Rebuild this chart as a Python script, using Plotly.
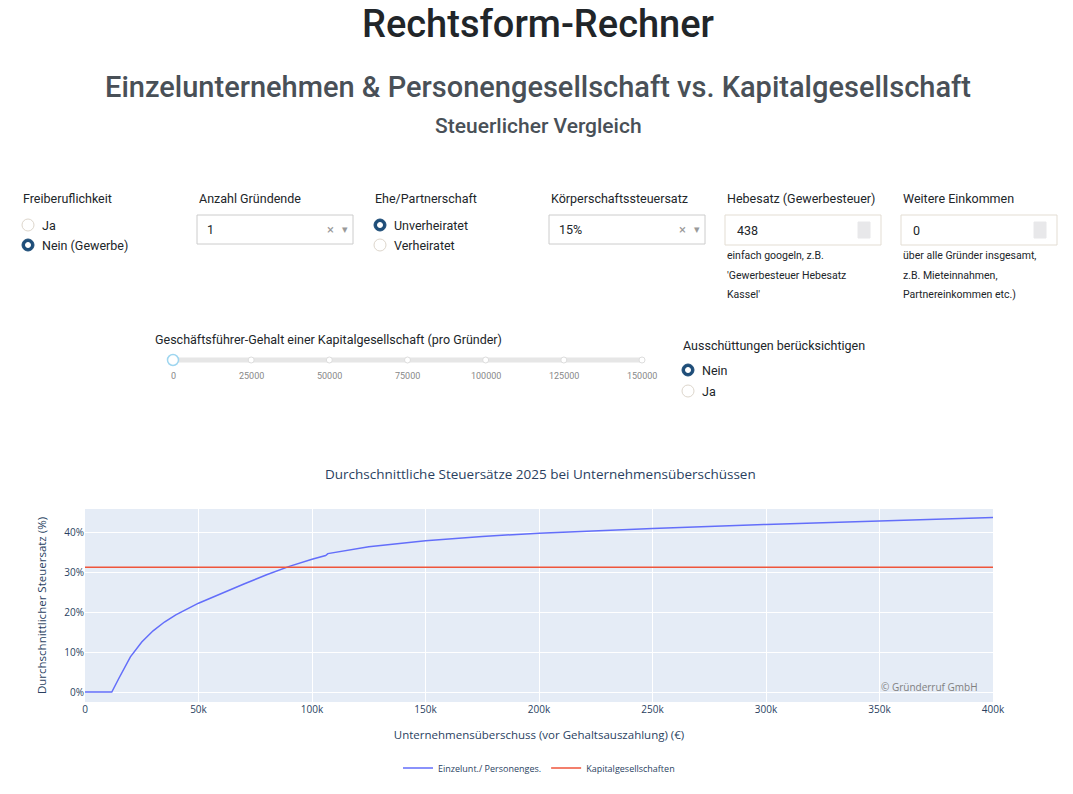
import plotly.graph_objects as go

# --- Data ------------------------------------------------------------------
gewinn = [0, 11800, 15000, 18000, 20000, 25000, 30000, 35000, 40000, 50000, 60000,
          70000, 80000, 90000, 100000, 106000, 107000, 125000, 150000, 175000,
          200000, 250000, 300000, 350000, 400000]
steuer_ep = [0, 0, 3.5, 6.8, 8.8, 12.5, 15.3, 17.5, 19.3, 22.2, 24.7,
             27.0, 29.3, 31.4, 33.2, 34.1, 34.6, 36.3, 37.8, 38.9,
             39.7, 40.9, 41.9, 42.8, 43.6]
kap_x = [0, 400000]
kap_y = [31.2, 31.2]

slider_ticks = [0, 25000, 50000, 75000, 100000, 125000, 150000]

# page offset of the figure inside the browser window
OFF = 8
W, H = 1073, 794
L, R, T, B = 77, 88, 501, 100
PW, PH = W - L - R, H - T - B


def px(x):
    return (x - OFF - L) / PW


def py(y):
    return (H - B - (y - OFF)) / PH


fig = go.Figure()
fig.add_trace(go.Scatter(x=gewinn, y=steuer_ep, mode="lines", name="Einzelunt./ Personenges.",
                         line=dict(color="#636efa", width=1.5)))
fig.add_trace(go.Scatter(x=kap_x, y=kap_y, mode="lines", name="Kapitalgesellschaften",
                         line=dict(color="#ef553b", width=1.5)))

ann = []
shapes = []
UI = "Roboto"


def text(x, y, s, size=12.5, color="#212529", anchor="left", family=UI, weight="normal"):
    ann.append(dict(x=px(x), y=py(y), xref="paper", yref="paper", text=s, showarrow=False,
                    xanchor=anchor, yanchor="middle",
                    font=dict(family=family, size=size, color=color, weight=weight)))


def rect(x0, y0, x1, y1, line="#cccccc", fill="white"):
    shapes.append(dict(type="rect", xref="paper", yref="paper", x0=px(x0), x1=px(x1), y0=py(y0), y1=py(y1),
                       line=dict(color=line, width=1), fillcolor=fill, layer="above"))


def circle(cx, cy, r, line, fill, width=1):
    shapes.append(dict(type="circle", xref="paper", yref="paper", x0=px(cx - r), x1=px(cx + r),
                       y0=py(cy + r), y1=py(cy - r), line=dict(color=line, width=width),
                       fillcolor=fill, layer="above"))


def radio(x, y, label, checked):
    if checked:
        circle(x, y, 6, "#1f4e79", "#1f4e79")
        circle(x, y, 2.5, "white", "white")
    else:
        circle(x, y, 6, "#ddd6cc", "white")
    text(x + 12, y, label)


# header
text(538, 24, "Rechtsform-Rechner", size=38, anchor="center", color="#212529", weight=500)
text(538, 87, "Einzelunternehmen &amp; Personengesellschaft vs. Kapitalgesellschaft", size=29,
     anchor="center", color="#495057", weight=500)
text(538, 126, "Steuerlicher Vergleich", size=21, anchor="center", color="#495057", weight=500)

# controls row
text(21, 198, "Freiberuflichkeit")
radio(28, 225, "Ja", False)
radio(28, 245, "Nein (Gewerbe)", True)

text(197, 198, "Anzahl Gründende")
rect(197, 215, 353, 244)
text(205, 229, "1")
text(325, 229, "×", color="#999", size=13)
text(340, 229, "▾", color="#999", size=11)

text(373, 198, "Ehe/Partnerschaft")
radio(380, 225, "Unverheiratet", True)
radio(380, 245, "Verheiratet", False)

text(549, 198, "Körperschaftssteuersatz")
rect(549, 215, 705, 244)
text(557, 229, "15%")
text(677, 229, "×", color="#999", size=13)
text(692, 229, "▾", color="#999", size=11)

text(725, 198, "Hebesatz (Gewerbesteuer)")
rect(725, 215, 881, 245, line="#e3ddd3")
text(735, 230, "438")
rect(858, 222, 870, 238, line="#e8e8ea", fill="#e8e8ea")
text(725, 256, "einfach googeln, z.B.", size=10.5)
text(725, 275, "'Gewerbesteuer Hebesatz", size=10.5)
text(725, 294, "Kassel'", size=10.5)

text(901, 198, "Weitere Einkommen")
rect(901, 215, 1057, 245, line="#e3ddd3")
text(911, 230, "0")
rect(1034, 222, 1046, 238, line="#e8e8ea", fill="#e8e8ea")
text(901, 256, "über alle Gründer insgesamt,", size=10.5)
text(901, 275, "z.B. Mieteinnahmen,", size=10.5)
text(901, 294, "Partnereinkommen etc.)", size=10.5)

# slider
text(153, 339, "Geschäftsführer-Gehalt einer Kapitalgesellschaft (pro Gründer)")
shapes.append(dict(type="line", xref="paper", yref="paper", x0=px(173), x1=px(642), y0=py(360), y1=py(360),
                   line=dict(color="#e6e6e6", width=5), layer="above"))
for i, v in enumerate(slider_ticks):
    sx = 173 + i * (642 - 173) / (len(slider_ticks) - 1)
    if i == 0:
        circle(sx, 360, 5.5, "#9fd6f0", "white", width=1.5)
    else:
        circle(sx, 360, 3, "#dddddd", "white")
    text(sx, 376, str(v), size=9, color="#888", anchor="center")

text(681, 345, "Ausschüttungen berücksichtigen")
radio(688, 370, "Nein", True)
radio(688, 391, "Ja", False)

# chart title and watermark
text(540, 474, "Durchschnittliche Steuersätze 2025 bei Unternehmensüberschüssen", size=13.5,
     anchor="center", color="#2a3f5f", family="Open Sans")
text(980, 687, "© Gründerruf GmbH", size=10, anchor="right", color="#7f7f7f", family="Open Sans")

fig.update_layout(
    width=W, height=H,
    margin=dict(l=L, r=R, t=T, b=B),
    template="plotly",
    paper_bgcolor="white",
    font=dict(family="Open Sans", size=10, color="#2a3f5f"),
    annotations=ann,
    shapes=shapes,
    xaxis=dict(range=[0, 400000], tickvals=[0, 50000, 100000, 150000, 200000, 250000, 300000, 350000, 400000],
               ticktext=["0", "50k", "100k", "150k", "200k", "250k", "300k", "350k", "400k"],
               title=dict(text="Unternehmensüberschuss (vor Gehaltsauszahlung) (€)", font=dict(size=11.5)),
               zeroline=False),
    yaxis=dict(range=[-2.5, 45.75], dtick=10, ticksuffix="%",
               title=dict(text="Durchschnittlicher Steuersatz (%)", font=dict(size=11.5)),
               zeroline=False),
    legend=dict(orientation="h", x=0.5, xanchor="center", y=py(768), yanchor="middle",
                font=dict(size=9)),
)

fig.write_html("out.html")
